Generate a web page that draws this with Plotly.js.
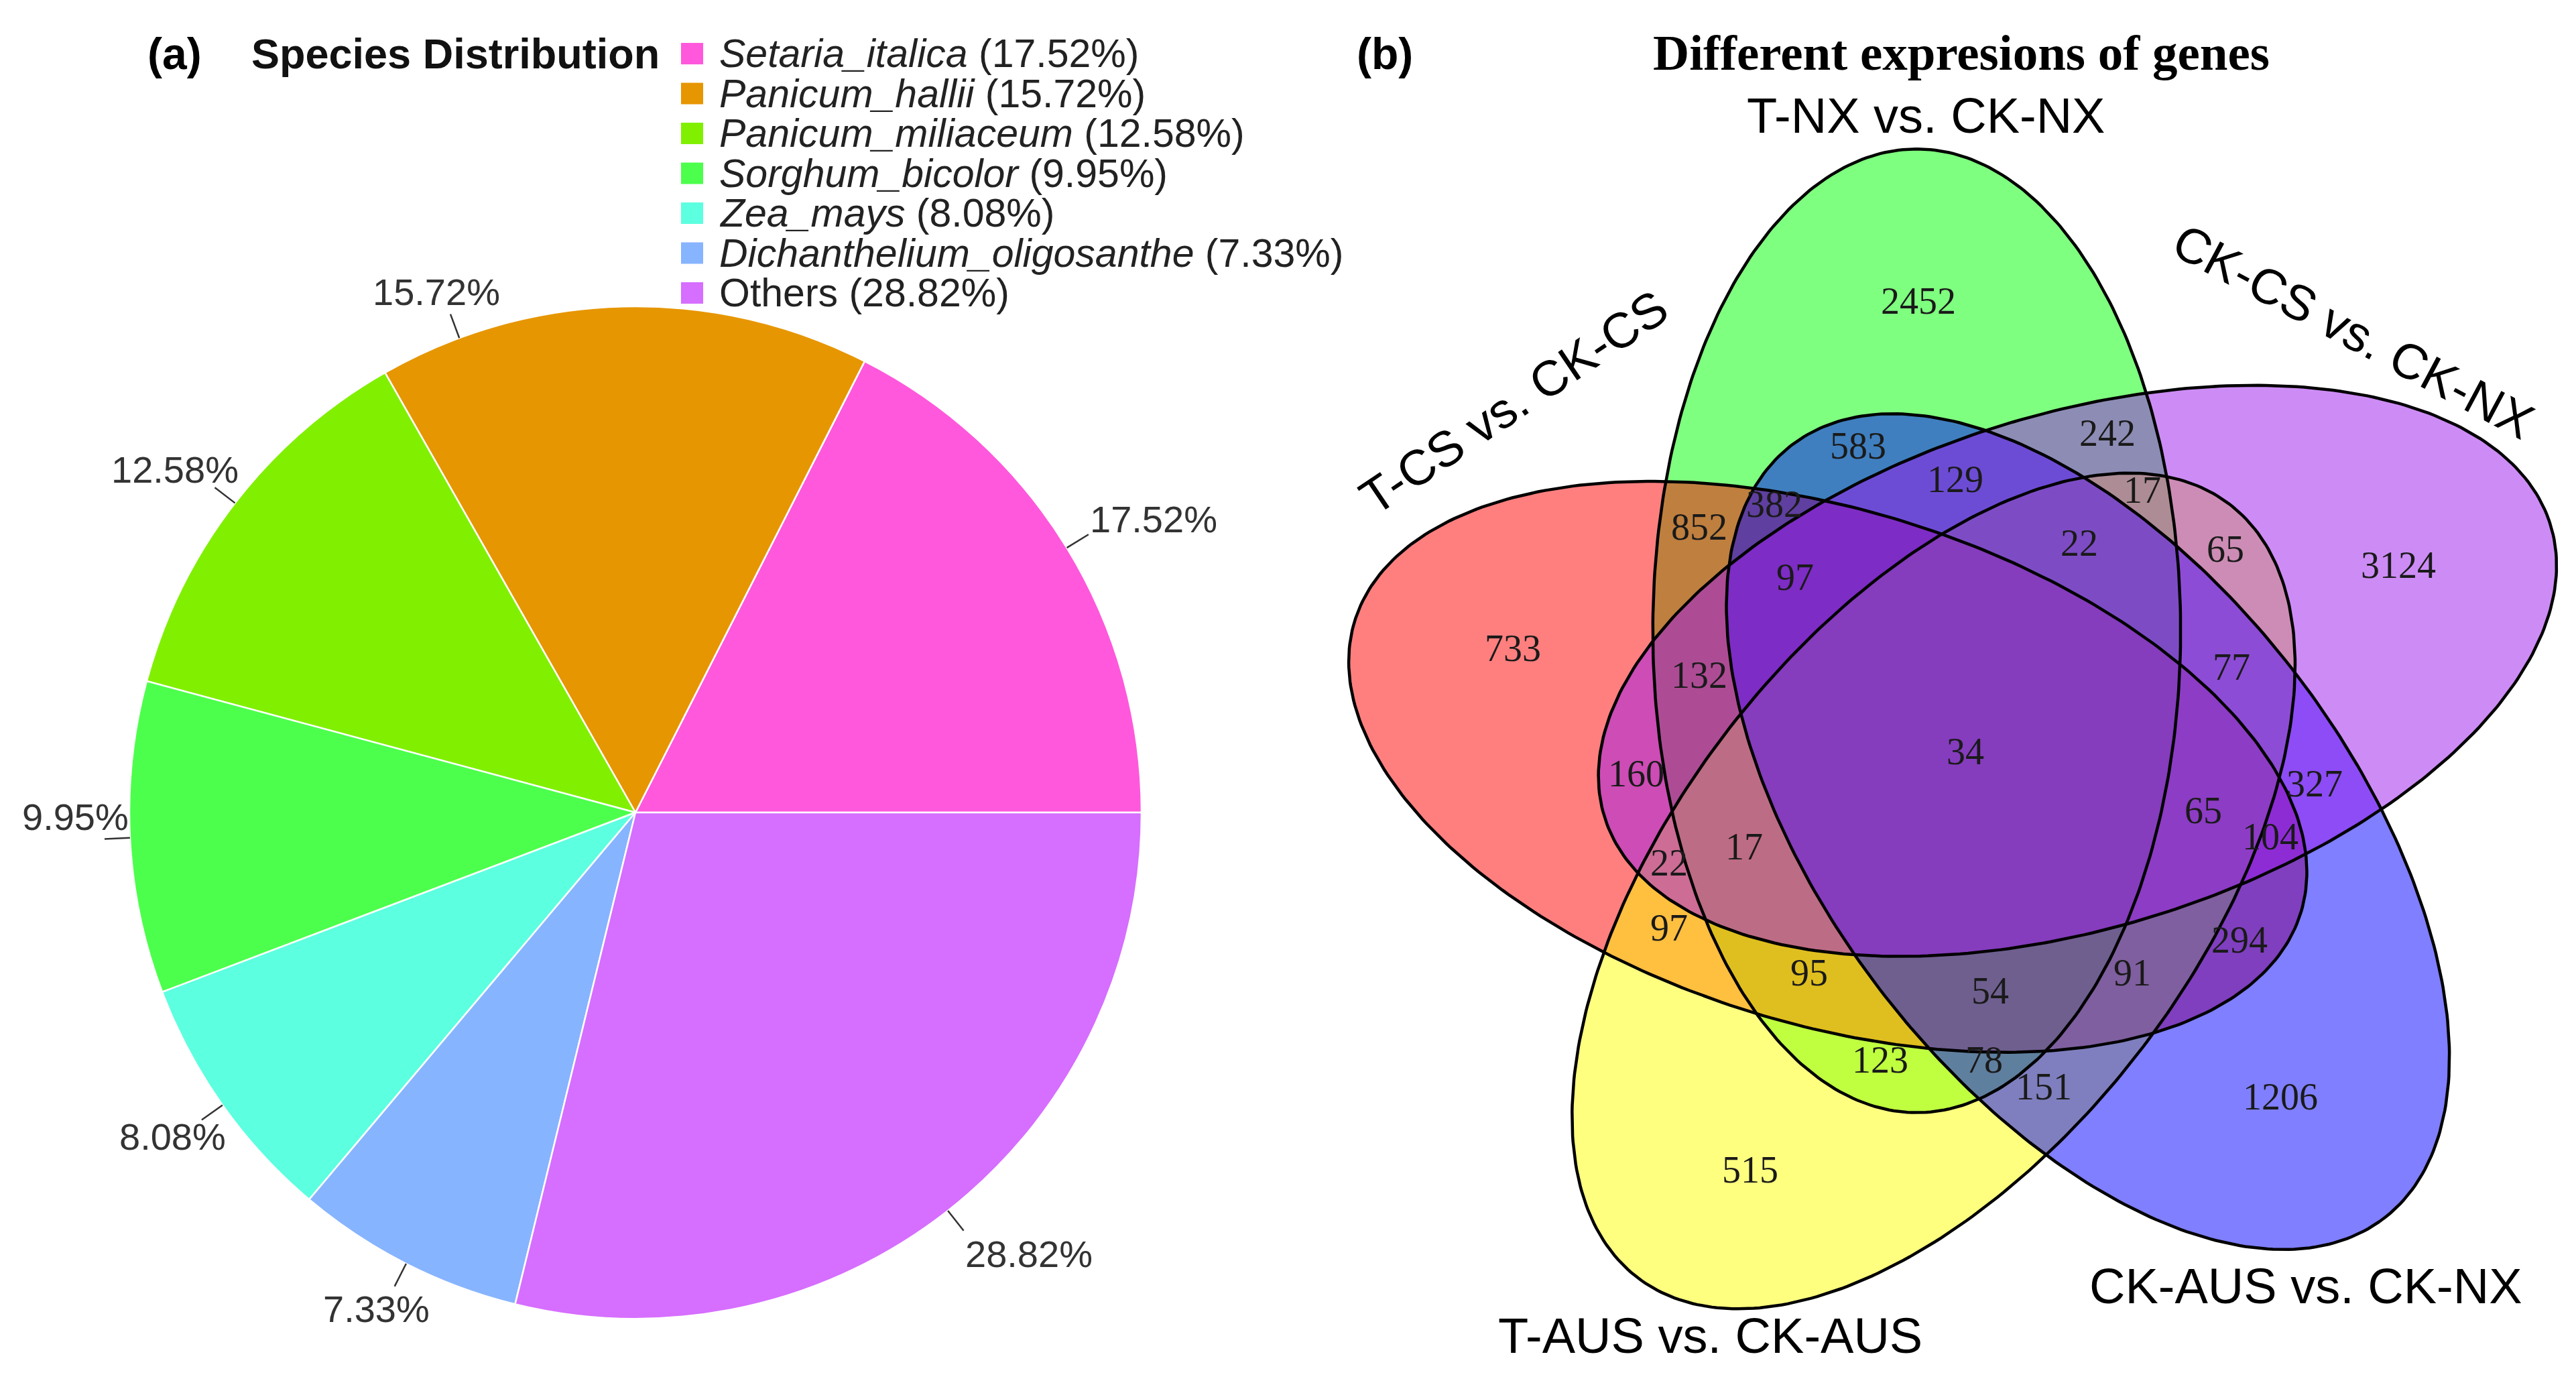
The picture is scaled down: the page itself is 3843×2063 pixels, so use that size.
<!DOCTYPE html>
<html><head><meta charset="utf-8">
<script src="https://cdn.plot.ly/plotly-3.0.1.min.js"></script>
<style>html,body{margin:0;padding:0;background:#fff;} #chart{width:3843px;height:2063px;}</style>
</head><body><div id="chart"></div>
<script>
// ---------- Panel (a): species distribution ----------
const species = ['Setaria_italica','Panicum_hallii','Panicum_miliaceum','Sorghum_bicolor','Zea_mays','Dichanthelium_oligosanthe','Others'];
const speciesPct = [17.52, 15.72, 12.58, 9.95, 8.08, 7.33, 28.82];

// ---------- Panel (b): Venn diagram ----------
const setNames = ['T-NX vs. CK-NX','T-CS vs. CK-CS','T-AUS vs. CK-AUS','CK-AUS vs. CK-NX','CK-CS vs. CK-NX'];
const regionCounts = [2452,583,852,382,97,733,132,129,242,17,22,65,3124,77,160,22,17,97,95,123,515,34,65,327,104,294,54,91,78,151,1206];

// ---------- Positions / geometry / styles (kept apart from data) ----------
const regionX = [2862,2772,2535,2647,2678,2257,2535,2917,3144,3196,3102,3320,3578,3329,2441,2490,2602,2490,2699,2805,2611,2932,3287,3453,3387,3341,2969,3181,2960,3049,3402];
const regionY = [454,670,791,757,866,972,1012,720,651,736,815,824,848,1000,1159,1292,1268,1389,1456,1586,1750,1126,1214,1174,1253,1407,1483,1456,1586,1626,1641];
const setAxisAngle = [90,162,234,306,18];
const setLabelX = [2873,2258,2551,3440,3511];
const setLabelY = [172,600,1992,1918,494];
const setLabelAngle = [0,-34,0,0,28];
const setFill = ['rgba(0,255,0,0.5)','rgba(255,0,0,0.5)','rgba(255,255,0,0.5)','rgba(0,0,255,0.5)','rgba(155,25,235,0.5)'];
const vennCenter = [2937,1131], vennOffset = 206.5, vennOffsetTurn = 21.6, semiA = 726, semiB = 386, stretchX = 1.02, stretchY = 0.99;
const pieColors = ['#FF58DC','#E69600','#80F000','#4CFF4C','#5CFFE0','#87B4FF','#D66EFF'];
const pieCenter = [948,1212], pieRadius = 755, leaderLen = 38, labelHalfH = 44, leftOverlap = 38;
const labelNudgeDeg = [0,19,0,0,0,0,0];

const W = 3843, H = 2063;
const SANS = 'Arial, Liberation Sans, sans-serif';
const SERIF = 'Times New Roman, Liberation Serif, serif';

function ellipse(k){
  const th = setAxisAngle[k]*Math.PI/180;
  const ph = (setAxisAngle[k]+vennOffsetTurn)*Math.PI/180;
  const ox = vennOffset*Math.cos(ph), oy = -vennOffset*Math.sin(ph);
  const xs=[], ys=[];
  for(let i=0;i<=360;i++){
    const t=i*Math.PI/180;
    const dx = ox + semiA*Math.cos(t)*Math.cos(th) + semiB*Math.sin(t)*Math.sin(th);
    const dy = oy - semiA*Math.cos(t)*Math.sin(th) + semiB*Math.sin(t)*Math.cos(th);
    xs.push(vennCenter[0] + stretchX*dx);
    ys.push(vennCenter[1] + stretchY*dy);
  }
  return {xs,ys};
}

const traces = [];
traces.push({
  type:'pie', labels:species, values:speciesPct, sort:false, direction:'counterclockwise',
  rotation: 90 - speciesPct[0]*3.6,
  marker:{colors:pieColors, line:{color:'#ffffff', width:2.5}},
  textinfo:'none',
  domain:{x:[(pieCenter[0]-pieRadius)/W,(pieCenter[0]+pieRadius)/W], y:[1-(pieCenter[1]+pieRadius)/H, 1-(pieCenter[1]-pieRadius)/H]},
  showlegend:false, hoverinfo:'label+percent'
});
const order = [0,1,2,3,4];
order.forEach(k=>{
  const e = ellipse(k);
  traces.push({type:'scatter', mode:'none', x:e.xs, y:e.ys, fill:'toself', fillcolor:setFill[k],
    name:setNames[k], hoverinfo:'name', showlegend:false});
});
order.forEach(k=>{
  const e = ellipse(k);
  traces.push({type:'scatter', mode:'lines', x:e.xs, y:e.ys, line:{color:'#000', width:4.5},
    hoverinfo:'skip', showlegend:false});
});
traces.push({type:'scatter', mode:'text', x:regionX, y:regionY, text:regionCounts.map(String),
  textposition:'middle center', textfont:{family:SERIF, size:56, color:'#1a1a1a'},
  hoverinfo:'text', showlegend:false});

const annotations = [];
const shapes = [];
function paperAnn(x,y,text,font,extra){
  annotations.push(Object.assign({xref:'paper', yref:'paper', x:x/W, y:1-y/H, text:text, showarrow:false, font:font,
    xanchor:'center', yanchor:'middle'}, extra||{}));
}
paperAnn(260,80,'(a)',{family:SANS,size:66,color:'#000',weight:'bold'});
paperAnn(679,80,'Species Distribution',{family:SANS,size:63,color:'#111',weight:'bold'});
paperAnn(2066,80,'(b)',{family:SANS,size:66,color:'#000',weight:'bold'});
paperAnn(2926,78,'Different expresions of genes',{family:SERIF,size:75,color:'#000',weight:'bold'});

// legend entries built from the data arrays
species.forEach((s,i)=>{
  const yc = 80 + i*59.5;
  const label = (s==='Others') ? s : '<i>'+s+'</i>';
  paperAnn(1071, yc, label+' ('+speciesPct[i].toFixed(2)+'%)', {family:SANS,size:59,color:'#222'}, {xanchor:'left'});
  shapes.push({type:'rect', xref:'paper', yref:'paper', x0:1016/W, x1:1049/W, y0:1-(yc+16)/H, y1:1-(yc-16)/H,
    line:{width:0}, fillcolor:pieColors[i]});
});

// outside percentage labels with leader lines, placed from the slice angles
let cum = 0;
speciesPct.forEach((v,i)=>{
  const mDeg = cum + v*3.6/2 + labelNudgeDeg[i];
  cum += v*3.6;
  const m = mDeg*Math.PI/180, c = Math.cos(m), s = Math.sin(m);
  const ex = pieCenter[0] + pieRadius*c, ey = pieCenter[1] - pieRadius*s;
  const px = ex + leaderLen*c, py = ey - leaderLen*s;
  shapes.push({type:'line', xref:'paper', yref:'paper', x0:ex/W, y0:1-ey/H, x1:px/W, y1:1-py/H,
    line:{color:'#333', width:2.5}});
  let ax = px, extra;
  if(Math.abs(s) < 0.3){ ax = ex; extra = {xanchor: c<0 ? 'right':'left', yanchor:'bottom'}; }
  else if(c > 0.5) extra = {xanchor:'left', yanchor:'middle', yshift:labelHalfH*s};
  else if(c < -0.5) extra = {xanchor:'right', yanchor:'middle', yshift:labelHalfH*s, xshift:leftOverlap};
  else extra = {xanchor:'center', yanchor: s>0 ? 'bottom':'top', xshift:60*c};
  paperAnn(ax, py, v.toFixed(2)+'%', {family:SANS,size:56,color:'#333'}, extra);
});

setNames.forEach((n,k)=>{
  annotations.push({xref:'x', yref:'y', x:setLabelX[k], y:setLabelY[k], text:n, showarrow:false,
    xanchor:'center', yanchor:'middle',
    textangle:setLabelAngle[k], font:{family:SANS,size:74,color:'#000'}});
});

const layout = {
  width:W, height:H, margin:{l:0,r:0,t:0,b:0,pad:0}, paper_bgcolor:'#ffffff', plot_bgcolor:'rgba(0,0,0,0)',
  showlegend:false,
  xaxis:{domain:[0.5,1], range:[W/2,W], visible:false, fixedrange:true},
  yaxis:{domain:[0,1], range:[H,0], visible:false, fixedrange:true},
  annotations:annotations, shapes:shapes
};
Plotly.newPlot('chart', traces, layout, {staticPlot:true, displayModeBar:false});
</script></body></html>
